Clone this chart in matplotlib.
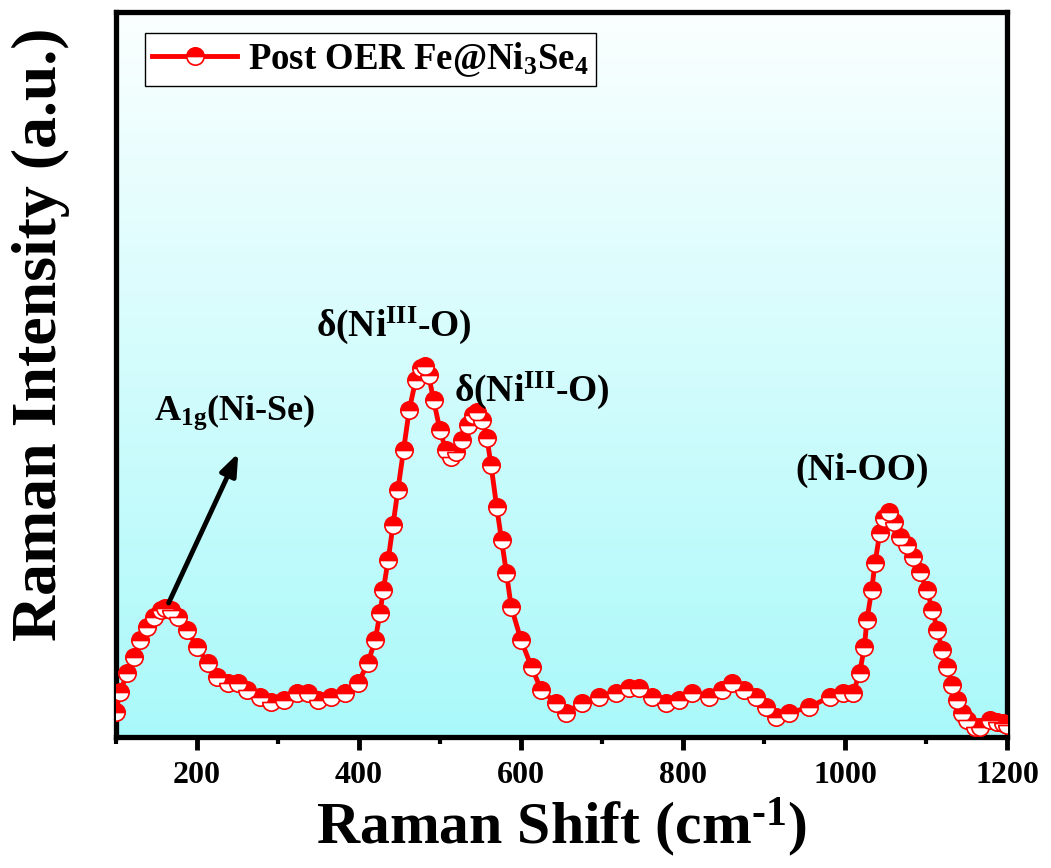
import numpy as np
import matplotlib
matplotlib.use("Agg")
import matplotlib.pyplot as plt
from matplotlib.colors import LinearSegmentedColormap

plt.rcParams['font.family'] = ['Liberation Serif', 'DejaVu Serif']
plt.rcParams['font.weight'] = 'bold'
plt.rcParams['mathtext.default'] = 'regular'

# Raman shift (cm^-1) and intensity (a.u.)
shift = [100, 105, 114, 122, 130, 138, 147, 155, 161, 168, 176, 188, 200, 213, 225,
         238, 250, 262, 278, 291, 308, 324, 337, 349, 365, 383, 399, 411, 420, 426,
         430, 436, 442, 448, 455, 462, 470, 476, 481, 486, 492, 500, 507, 513, 520,
         527, 534, 541, 546, 552, 558, 563, 570, 576, 582, 588, 600, 613, 625, 643,
         655, 675, 696, 717, 733, 746, 762, 779, 795, 811, 832, 848, 861, 875, 890,
         903, 915, 931, 956, 981, 997, 1010, 1018, 1024, 1027, 1033, 1037, 1043, 1048, 1054,
         1060, 1068, 1076, 1084, 1092, 1101, 1108, 1114, 1120, 1126, 1132, 1138, 1145, 1151, 1160,
         1167, 1179, 1188, 1195, 1200]
intensity = [25, 45, 64, 80, 97, 110, 120, 127, 129, 127, 120, 107, 90, 74, 60,
             54, 54, 47, 40, 35, 37, 44, 44, 37, 40, 44, 54, 74, 97, 124,
             147, 177, 212, 247, 287, 327, 357, 369, 371, 362, 337, 307, 287, 280, 285,
             297, 312, 322, 325, 317, 299, 272, 230, 197, 164, 130, 97, 70, 47, 34,
             24, 34, 40, 44, 49, 49, 40, 34, 37, 44, 40, 47, 54, 47, 40,
             30, 20, 24, 30, 40, 44, 44, 64, 90, 117, 147, 174, 204, 219, 225,
             215, 200, 192, 180, 165, 147, 127, 107, 87, 70, 52, 37, 24, 17, 10,
             10, 17, 15, 14, 12]

xticks_major = [200, 400, 600, 800, 1000, 1200]
xticks_minor = [100, 300, 500, 700, 900, 1100]

fig = plt.figure(figsize=(10.51, 8.68), dpi=100)
ax = fig.add_axes([116/1051, 1 - 737/868, (1007-116)/1051, (737-12)/868])

# gradient background
cmap = LinearSegmentedColormap.from_list('bg', ['#aaf9fa', '#fbffff'])
grad = np.linspace(0, 1, 256).reshape(-1, 1)
ax.imshow(grad, cmap=cmap, aspect='auto', origin='lower',
          extent=[0, 1, 0, 1], transform=ax.transAxes, zorder=0)

ax.plot(shift, intensity, color='red', lw=3.5, marker='o', ms=12.5,
        fillstyle='top', markerfacecolor='red', markerfacecoloralt='white',
        markeredgecolor='red', markeredgewidth=1.2, zorder=3,
        label='Post OER Fe@Ni$_3$Se$_4$')

ax.set_xlim(100, 1200)
ax.set_ylim(0, 725)
ax.set_xticks(xticks_major)
ax.set_xticks(xticks_minor, minor=True)
ax.set_yticks([])
ax.tick_params(axis='x', which='major', direction='out', length=9, width=3.5,
               labelsize=23, pad=8, top=False)
ax.tick_params(axis='x', which='minor', direction='out', length=5, width=3, top=False)
for lab in ax.get_xticklabels():
    lab.set_fontweight('bold')
for sp in ax.spines.values():
    sp.set_linewidth(3.8)

ax.set_xlabel('Raman Shift (cm$^{\u20101}$)', fontsize=43, fontweight='bold', labelpad=4)
ax.set_ylabel('Raman Intensity (a.u.)', fontsize=46, fontweight='bold')
ax.yaxis.set_label_coords(-0.052, 0.555)

leg = ax.legend(loc='upper left', bbox_to_anchor=(0.0325, 0.971), borderaxespad=0,
                fancybox=False, edgecolor='black', framealpha=1, facecolor='white',
                prop={'size': 26.5, 'weight': 'bold'}, handlelength=2.3, numpoints=1,
                borderpad=0.2, handletextpad=0.3)
leg.get_frame().set_linewidth(1.0)

fs = 27
ax.text(246, 325, 'A$_{1g}$(Ni-Se)', fontsize=fs - 1, fontweight='bold', ha='center', va='center')
ax.text(443, 412, 'δ(Ni$^{III}$-O)', fontsize=fs, fontweight='bold', ha='center', va='center')
ax.text(614, 347, 'δ(Ni$^{III}$-O)', fontsize=fs, fontweight='bold', ha='center', va='center')
ax.text(1021, 267, '(Ni-OO)', fontsize=fs, fontweight='bold', ha='center', va='center')

ax.annotate('', xy=(251, 284), xytext=(165, 134),
            arrowprops=dict(arrowstyle='-|>,head_length=1.3,head_width=0.5',
                            color='black', lw=3.5, shrinkA=0, shrinkB=0),
            zorder=5)

fig.savefig('out.png', dpi=100)
